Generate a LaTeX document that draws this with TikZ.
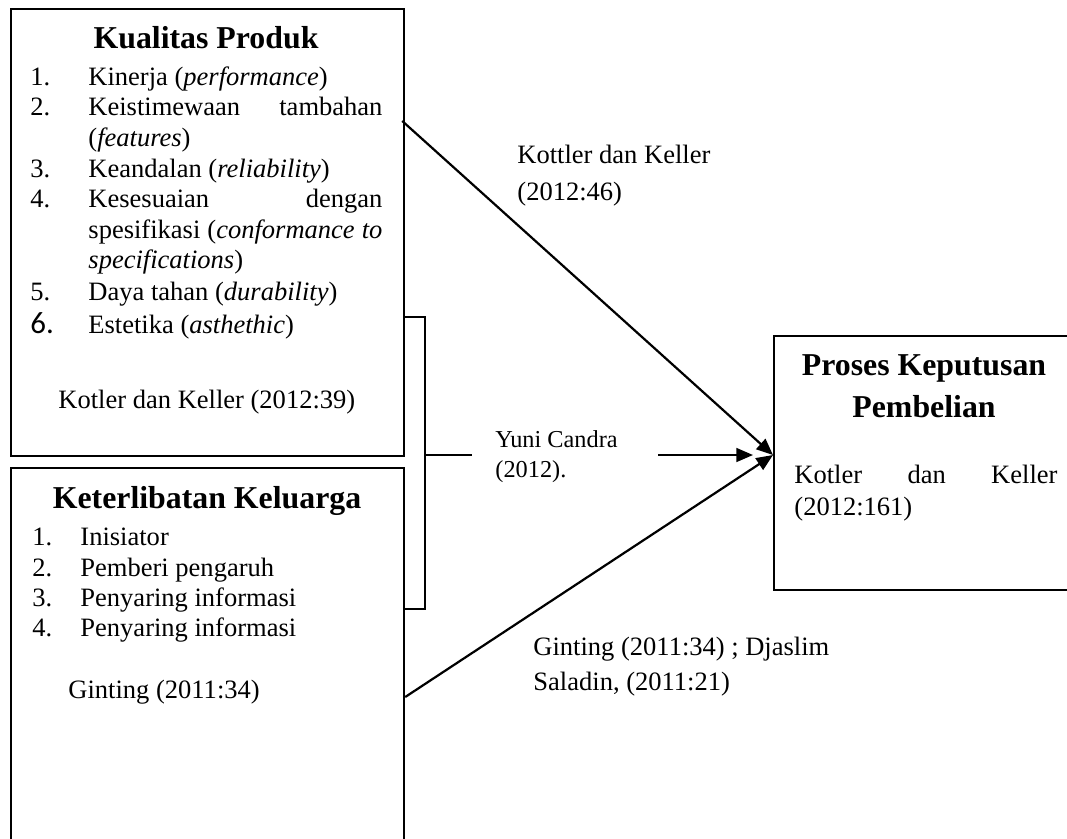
\documentclass[tikz,border=0pt]{standalone}
\usepackage{fontspec}
\setmainfont{Liberation Serif}
\newfontfamily\calib{Carlito}
\usetikzlibrary{arrows.meta,calc}
\newlength\ul
\setlength\ul{0.4525pt}
\begin{document}
\begin{tikzpicture}[x=0.4525pt,y=-0.4525pt,
  box/.style={draw,line width=1pt,inner sep=0,anchor=north west},
  ln/.style={line width=1pt},
  arr/.style={ln,-{Triangle[length=7.5pt,width=6.2pt]}},
  txt/.style={anchor=base west,inner sep=0,font=\fontsize{12pt}{14pt}\selectfont},
  ttl/.style={anchor=base,inner sep=0,font=\fontsize{14.4pt}{17pt}\selectfont\bfseries},
  sm/.style={anchor=base west,inner sep=0,font=\fontsize{11pt}{13pt}\selectfont}]
\clip (0,0) rectangle (1067,838);
% boxes
\node[box,minimum width=393\ul,minimum height=447\ul] (kp) at (10,8) {};
\node[box,minimum width=393\ul,minimum height=390\ul] (kk) at (10,467) {};
\node[box,minimum width=320\ul,minimum height=254\ul] (pkp) at (773,335) {};
% Kualitas Produk
\node[ttl] (t1) at (206,48) {Kualitas Produk};
\node[txt] (n1) at (30,85) {1.};
\node[txt] (i1) at (88,85) {Kinerja (\textit{performance})};
\node[txt] (n2) at (30,115) {2.};
\node[txt] (i2) at (88,115) {\makebox[294\ul][s]{Keistimewaan\hfill tambahan}};
\node[txt] (i2b) at (88,146) {(\textit{features})};
\node[txt] (n3) at (30,177) {3.};
\node[txt] (i3) at (88,177) {Keandalan (\textit{reliability})};
\node[txt] (n4) at (30,207) {4.};
\node[txt] (i4) at (88,207) {\makebox[294\ul][s]{Kesesuaian\hfill dengan}};
\node[txt] (i4b) at (88,238) {\makebox[294\ul][s]{spesifikasi (\textit{conformance to}}};
\node[txt] (i4c) at (88,268) {\textit{specifications})};
\node[txt] (n5) at (30,300) {5.};
\node[txt] (i5) at (88,300) {Daya tahan (\textit{durability})};
\node[txt,font=\calib\fontsize{14pt}{16pt}\selectfont] (n6) at (30,333) {6.};
\node[txt] (i6) at (88,333) {Estetika (\textit{asthethic})};
\node[txt] (s1) at (58,408) {Kotler dan Keller (2012:39)};
% Keterlibatan Keluarga
\node[ttl] (t2) at (207,508) {Keterlibatan Keluarga};
\node[txt] (m1) at (32,545) {1.};
\node[txt] (j1) at (80,545) {Inisiator};
\node[txt] (m2) at (32,576) {2.};
\node[txt] (j2) at (80,576) {Pemberi pengaruh};
\node[txt] (m3) at (32,606) {3.};
\node[txt] (j3) at (80,606) {Penyaring informasi};
\node[txt] (m4) at (32,636) {4.};
\node[txt] (j4) at (80,636) {Penyaring informasi};
\node[txt] (s2) at (68,698) {Ginting (2011:34)};
% Proses Keputusan Pembelian
\node[ttl] (t3) at (924,375) {Proses Keputusan};
\node[ttl] (t3b) at (924,417) {Pembelian};
\node[txt] (s3) at (794,483) {\makebox[263\ul][s]{Kotler\hfill dan\hfill Keller}};
\node[txt] (s3b) at (794,515) {(2012:161)};
% labels
\node[txt] (l1) at (517,163) {Kottler dan Keller};
\node[txt] (l1b) at (517,200) {(2012:46)};
\node[sm] (l2) at (495,447) {Yuni Candra};
\node[sm] (l2b) at (495,477) {(2012).};
\node[txt] (l3) at (533,655) {Ginting (2011:34) ; Djaslim};
\node[txt] (l3b) at (533,690) {Saladin, (2011:21)};
% connectors
\coordinate (b1) at (425,317);
\coordinate (b2) at (425,609);
\coordinate (bm) at (425,455);
\coordinate (bm2) at (472,455);
\coordinate (ha) at (658,455);
\coordinate (tip) at (pkp.west |- bm);
\coordinate (st1) at ($(kp.north east)+(-3,113)$);
\coordinate (st2) at ($(kk.north east)+(0,230)$);
\draw[ln] (kp.east |- b1) -- (b1) -- (b2) -- (kk.east |- b2);
\draw[ln] (bm) -- (bm2);
\draw[arr] (ha) -- ($(tip)+(-20,0)$);
\draw[arr] (st1) -- (tip);
\draw[arr] (st2) -- (tip);
\end{tikzpicture}
\end{document}
